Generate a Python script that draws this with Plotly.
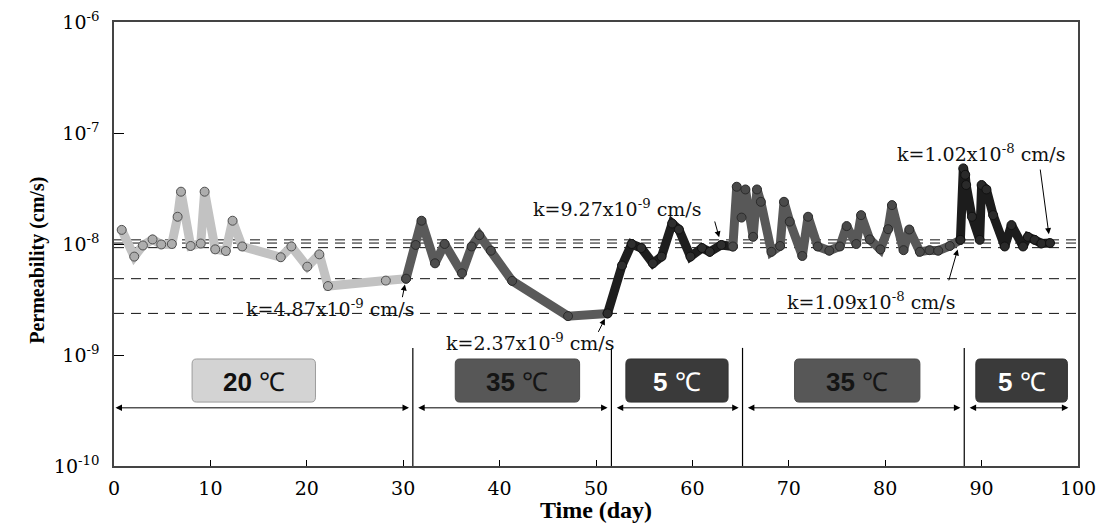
import numpy as np
import plotly.graph_objects as go

# ---------------- data ----------------
t_20 = [0.8, 2.1, 3.0, 4.0, 4.9, 6.0, 6.6, 6.95, 7.95, 9.0, 9.4, 10.5, 11.6, 12.3,
        13.3, 17.3, 18.4, 20.05, 21.3, 22.2, 28.2, 30.3]
k_20 = [1.34e-8, 7.7e-9, 9.7e-9, 1.1e-8, 9.9e-9, 1.0e-8, 1.76e-8, 2.96e-8, 9.6e-9,
        1.01e-8, 2.96e-8, 8.95e-9, 8.65e-9, 1.62e-8, 9.5e-9, 7.6e-9, 9.5e-9, 6.25e-9,
        8.07e-9, 4.18e-9, 4.68e-9, 4.87e-9]

t_35a = [30.3, 31.3, 31.9, 33.3, 34.3, 36.1, 37.1, 37.9, 39.1, 41.3, 47.1, 51.2]
k_35a = [4.87e-9, 9.8e-9, 1.62e-8, 6.7e-9, 1.0e-8, 5.45e-9, 9.5e-9, 1.2e-8, 8.7e-9,
         4.65e-9, 2.24e-9, 2.37e-9]

t_5a = [51.2, 52.7, 53.7, 54.7, 55.9, 56.8, 57.9, 58.6, 59.8, 61.0, 61.8, 63.0, 64.2]
k_5a = [2.37e-9, 6.4e-9, 1.0e-8, 9.2e-9, 6.7e-9, 7.7e-9, 1.53e-8, 1.35e-8, 7.7e-9,
        9.2e-9, 8.5e-9, 9.8e-9, 9.5e-9]

t_35b = [64.2, 64.6, 65.1, 65.5, 66.3, 66.7, 67.1, 68.2, 69.1, 69.5, 70.1, 71.4, 72.0,
         73.0, 74.2, 75.3, 76.0, 77.0, 77.5, 78.4, 79.5, 80.3, 80.7, 81.9, 82.5, 83.6,
         84.6, 85.5, 86.7, 87.8]
k_35b = [9.5e-9, 3.28e-8, 1.73e-8, 3.1e-8, 1.16e-8, 3.1e-8, 2.4e-8, 8.5e-9, 9.6e-9,
         2.4e-8, 1.59e-8, 7.8e-9, 1.76e-8, 9.5e-9, 8.7e-9, 9.5e-9, 1.45e-8, 1.0e-8,
         1.82e-8, 1.1e-8, 8.95e-9, 1.36e-8, 2.24e-8, 8.8e-9, 1.35e-8, 8.5e-9, 8.8e-9,
         8.7e-9, 9.6e-9, 1.09e-8]

t_5b = [87.8, 88.1, 88.3, 88.4, 89.0, 89.8, 90.0, 90.5, 91.2, 92.4, 93.1, 94.3, 94.8,
        95.5, 96.2, 97.1]
k_5b = [1.09e-8, 4.8e-8, 4.2e-8, 3.4e-8, 1.76e-8, 1.09e-8, 3.4e-8, 3.1e-8, 1.82e-8,
        9.5e-9, 1.48e-8, 9.5e-9, 1.16e-8, 1.09e-8, 1.01e-8, 1.02e-8]

# reference permeability levels (dashed lines)
k_ref = [1.09e-8, 1.02e-8, 9.27e-9, 4.87e-9, 2.37e-9]

# temperature phases
phase_labels = ["20", "35", "5", "35", "5"]
phase_bounds = [0, 31.0, 51.6, 65.2, 88.2, 99.0]
box_x = [(8.1, 20.9), (35.4, 48.3), (53.1, 63.7), (70.6, 83.6), (89.4, 98.9)]

y_tickvals = [1e-10, 1e-9, 1e-8, 1e-7, 1e-6]
y_ticktext = ["10<sup>-10</sup>", "10<sup>-9</sup>", "10<sup>-8</sup>",
              "10<sup>-7</sup>", "10<sup>-6</sup>"]
x_tickvals = list(range(0, 101, 10))

# ---------------- styles ----------------
series = [(t_20, k_20), (t_35a, k_35a), (t_5a, k_5a), (t_35b, k_35b), (t_5b, k_5b)]
line_col = ["#c2c2c2", "#5a5a5a", "#1e1e1e", "#585858", "#1c1c1c"]
mark_fill = ["#adadad", "#4c4c4c", "#2e2e2e", "#4a4a4a", "#2a2a2a"]
mark_edge = ["#505050", "#2a2a2a", "#111111", "#2a2a2a", "#111111"]
box_fill = ["#d3d3d3", "#575757", "#3a3a3a", "#575757", "#3a3a3a"]
box_edge = ["#9c9c9c", "#4a4a4a", "#303030", "#4a4a4a", "#303030"]
box_txt = ["#111111", "#151515", "#ffffff", "#151515", "#ffffff"]

SERIF = "DejaVu Serif"

fig = go.Figure()

for k in k_ref:
    fig.add_trace(go.Scatter(x=[0, 100], y=[k, k], mode="lines",
                             line=dict(color="#111111", width=1, dash="10px,7px"),
                             hoverinfo="skip", showlegend=False))

for i, (t, k) in enumerate(series):
    fig.add_trace(go.Scatter(
        x=t, y=k, mode="lines+markers",
        line=dict(color=line_col[i], width=9),
        marker=dict(size=9, color=mark_fill[i], line=dict(color=mark_edge[i], width=1)),
        showlegend=False))

shapes = []
annotations = []

box_y0, box_y1 = 0.144, 0.241
arrow_y = 0.131
vline_top = 0.266

for b in phase_bounds[1:-1]:
    shapes.append(dict(type="line", xref="x", yref="paper", x0=b, x1=b, y0=0, y1=vline_top,
                       line=dict(color="#000000", width=1.2)))

rx, ry = 0.45, 0.011
for i, (x0, x1) in enumerate(box_x):
    y0, y1 = box_y0, box_y1
    path = (f"M {x0+rx},{y0} L {x1-rx},{y0} Q {x1},{y0} {x1},{y0+ry} "
            f"L {x1},{y1-ry} Q {x1},{y1} {x1-rx},{y1} L {x0+rx},{y1} "
            f"Q {x0},{y1} {x0},{y1-ry} L {x0},{y0+ry} Q {x0},{y0} {x0+rx},{y0} Z")
    shapes.append(dict(type="path", xref="x", yref="paper", path=path,
                       fillcolor=box_fill[i], line=dict(color=box_edge[i], width=1)))
    annotations.append(dict(
        x=(x0 + x1) / 2, y=(y0 + y1) / 2, xref="x", yref="paper", showarrow=False,
        xanchor="center", yanchor="middle", yshift=-1,
        text=f"<b>{phase_labels[i]}</b> ℃",
        font=dict(family="Liberation Sans", size=26, color=box_txt[i])))

# double-headed span arrows
gap = 0.4
for i in range(len(phase_bounds) - 1):
    a = phase_bounds[i] + (0 if i == 0 else gap)
    b = phase_bounds[i + 1] - (0 if i == len(phase_bounds) - 2 else gap)
    annotations.append(dict(
        x=b, y=arrow_y, xref="x", yref="paper", ax=a, ay=0, axref="x", ayref="pixel",
        text="", showarrow=True, arrowhead=2, startarrowhead=2, arrowside="end+start",
        arrowsize=1.3, startarrowsize=1.3, arrowwidth=1, arrowcolor="#000000"))

# k labels (text)
labels = [
    ("k=4.87x10<sup>-9</sup> cm/s", 22.4, 0.355),
    ("k=2.37x10<sup>-9</sup> cm/s", 43.2, 0.280),
    ("k=9.27x10<sup>-9</sup> cm/s", 52.2, 0.580),
    ("k=1.02x10<sup>-8</sup> cm/s", 89.9, 0.706),
    ("k=1.09x10<sup>-8</sup> cm/s", 78.5, 0.372),
]
for txt, x, y in labels:
    annotations.append(dict(x=x, y=y, xref="x", yref="paper", text=txt, showarrow=False,
                            xanchor="center", yanchor="middle",
                            font=dict(family=SERIF, size=19, color="#111111")))

# pointer arrows to data points
pointers = [
    (t_35a[0], k_35a[0], -4, 20, 6),
    (t_5a[0], k_5a[0], -10, 20, 6),
    (t_5a[-2], k_5a[-2], -7, -25, 8),
    (t_5b[0], k_5b[0], -12, 42, 10),
    (t_5b[-1], k_5b[-1], -10, -75, 9),
]
for x, k, ax, ay, so in pointers:
    annotations.append(dict(x=x, y=float(np.log10(k)), xref="x", yref="y", ax=ax, ay=ay,
                            text="", showarrow=True, arrowhead=2, arrowsize=1.2,
                            arrowwidth=1, arrowcolor="#000000", standoff=so))

# y-axis title (placed like the reference, slightly below the plot centre)
annotations.append(dict(x=-0.079, y=0.464, xref="paper", yref="paper", showarrow=False,
                        text="<b>Permeability (cm/s)</b>", textangle=-90,
                        xanchor="center", yanchor="middle",
                        font=dict(family="Liberation Serif", size=20, color="#000000")))

# the page places the figure 8 px from the top-left corner of the window
fig.update_layout(
    width=1099, height=515,
    margin=dict(l=106, r=29, t=14, b=57, autoexpand=False),
    paper_bgcolor="white", plot_bgcolor="white",
    shapes=shapes, annotations=annotations,
    showlegend=False,
    xaxis=dict(range=[0, 100], tickvals=x_tickvals, ticks="inside", ticklen=6,
               tickcolor="#000000", showline=True, linecolor="#444444", linewidth=1.5,
               mirror=True, showgrid=False, zeroline=False, automargin=False,
               tickfont=dict(family=SERIF, size=19, color="#000000"),
               ticklabelstandoff=4,
               title=dict(text="<b>Time (day)</b>", standoff=4,
                          font=dict(family="Liberation Serif", size=24, color="#000000"))),
    yaxis=dict(type="log", range=[-10, -6], tickvals=y_tickvals, ticktext=y_ticktext,
               ticks="inside", ticklen=10, tickcolor="#000000", showline=True,
               linecolor="#444444", linewidth=1.5, mirror=True, showgrid=False,
               zeroline=False, ticklabelstandoff=9, automargin=False,
               tickfont=dict(family=SERIF, size=19, color="#000000")),
)

fig.write_html("out.html")
